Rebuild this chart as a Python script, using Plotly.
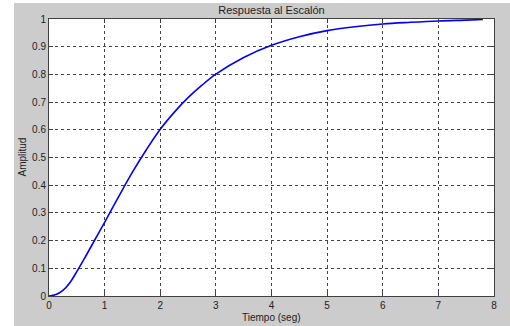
import plotly.graph_objects as go

t_vals = [0.0, 0.125, 0.25, 0.375, 0.5, 0.625, 0.75, 1.0, 1.25, 1.5, 1.75, 2.0, 2.25,
          2.5, 2.75, 3.0, 3.5, 4.0, 4.5, 5.0, 5.5, 6.0, 6.5, 7.0, 7.5, 7.8]
y_vals = [0.0, 0.005, 0.02, 0.048, 0.088, 0.131, 0.176, 0.266, 0.358, 0.447, 0.528,
          0.602, 0.663, 0.716, 0.761, 0.801, 0.861, 0.905, 0.936, 0.958,
          0.972, 0.982, 0.988, 0.993, 0.996, 0.998]

title_text = "Respuesta al Escalón"
x_title = "Tiempo (seg)"
y_title = "Amplitud"

W, H = 510, 326
L, R, T, B = 49, 16, 19, 30
PW, PH = W - L - R, H - T - B

fig = go.Figure()
fig.add_trace(go.Scatter(x=t_vals, y=y_vals, mode="lines",
                         line=dict(color="#0000ff", width=1.6, shape="spline", smoothing=1),
                         hoverinfo="skip", showlegend=False))

font = dict(family="Liberation Sans, Arial, sans-serif", size=10, color="#222222")

axis_common = dict(showline=True, linecolor="#404040", linewidth=1, mirror="ticks",
                   ticks="inside", ticklen=4, tickcolor="#404040",
                   showgrid=True, gridcolor="#444444", griddash="dot", gridwidth=1,
                   zeroline=False, tickfont=font, automargin=False)

fig.update_xaxes(range=[0, 8], dtick=1, tick0=0, **axis_common)
fig.update_yaxes(range=[0, 1], dtick=0.1, tick0=0, **axis_common)

# axis titles as annotations (pixel placed)
fig.add_annotation(text=x_title, xref="paper", yref="paper",
                   x=0.5, y=-(317 - (T + PH)) / PH, xanchor="center", yanchor="middle",
                   showarrow=False, font=font)
fig.add_annotation(text=y_title, xref="paper", yref="paper",
                   x=-(L - 22) / PW, y=0.5, xanchor="center", yanchor="middle",
                   textangle=-90, showarrow=False, font=font)

# white strips at the left and top of the image (outside the gray figure)
fig.add_shape(type="rect", xref="paper", yref="paper",
              x0=-L / PW - 0.01, x1=(14 - L) / PW,
              y0=-B / PH - 0.01, y1=1 + T / PH + 0.01,
              fillcolor="white", line=dict(width=0), layer="above")
fig.add_shape(type="rect", xref="paper", yref="paper",
              x0=-L / PW - 0.01, x1=1 + R / PW + 0.01,
              y0=1 + (T - 3) / PH, y1=1 + T / PH + 0.01,
              fillcolor="white", line=dict(width=0), layer="above")

fig.update_layout(
    width=W, height=H,
    autosize=False,
    margin=dict(l=L, r=R, t=T, b=B, pad=0, autoexpand=False),
    paper_bgcolor="#cccccc", plot_bgcolor="white",
    title=dict(text=title_text, font=dict(family="Liberation Sans, Arial, sans-serif", size=11, color="#222222"),
               x=(L + PW / 2) / W, xanchor="center",
               y=1 - 10 / H, yanchor="middle", automargin=False),
    showlegend=False,
)

fig.write_html("out.html", config={"responsive": False},
               post_script="document.body.style.margin='0';document.body.style.overflow='hidden';")
